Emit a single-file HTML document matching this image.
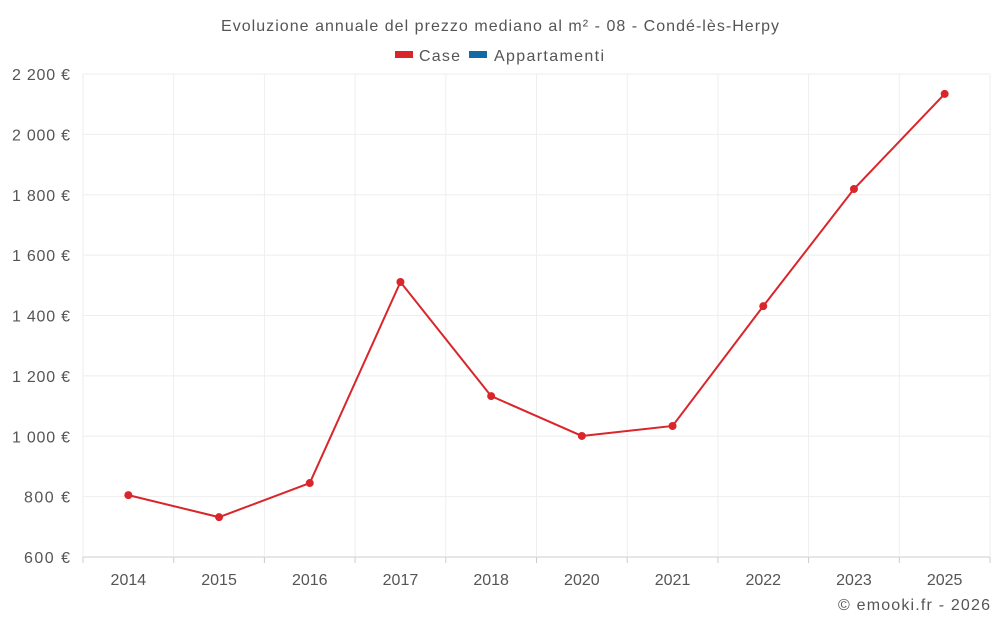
<!DOCTYPE html>
<html><head><meta charset="utf-8"><style>
body{margin:0;background:#fff;font-family:"Liberation Sans",sans-serif;}
svg text{font-family:"Liberation Sans",sans-serif;}
</style></head><body>
<svg id="chart" width="1000" height="625">
<text x="221" y="31" textLength="558" font-size="16" fill="#555">Evoluzione annuale del prezzo mediano al m² - 08 - Condé-lès-Herpy</text>
<g><rect x="395" y="51" width="18" height="7" fill="#d9262a"/><text x="419" y="61" textLength="41" font-size="16" fill="#555">Case</text></g>
<g><rect x="469" y="51" width="18" height="7" fill="#0f6aa6"/><text x="494" y="61" textLength="110" font-size="16" fill="#555">Appartamenti</text></g>
<g id="grid"></g><g id="axes"></g><g id="series"></g>
<text x="838" y="610" textLength="152" font-size="16" fill="#555">© emooki.fr - 2026</text>
</svg>
<script>
const categories=["2014","2015","2016","2017","2018","2020","2021","2022","2023","2025"];
const caseValues=[805,732,845,1511,1133,1001,1034,1431,1819,2134];
const yTicks=[600,800,1000,1200,1400,1600,1800,2000,2200];
const L=83,R=990,T=74,B=557,ymin=600,ymax=2200;
const ns="http://www.w3.org/2000/svg";
const bw=(R-L)/categories.length;
const xs=i=>L+bw*(i+0.5);
const ys=v=>B-(v-ymin)/(ymax-ymin)*(B-T);
function mk(t,a,p){const e=document.createElementNS(ns,t);for(const k in a)e.setAttribute(k,a[k]);p.appendChild(e);return e;}
const g=document.getElementById('grid'),ax=document.getElementById('axes'),s=document.getElementById('series');
yTicks.forEach(v=>{
 const l=mk('line',{x1:L,x2:R,y1:ys(v),y2:ys(v),stroke:v===ymin?'#ccc':'#eee'},g);
 
 
 const t=mk('text',{x:70,y:ys(v)+6,'text-anchor':'end','font-size':16,fill:'#555'},ax);
 t.textContent=String(v).replace(/\B(?=(\d{3})+(?!\d))/g,' ')+' €';
 t.setAttribute('textLength',v>=1000?58:46);
 
 
});
for(let i=0;i<=categories.length;i++){
 const l=mk('line',{x1:L+bw*i,x2:L+bw*i,y1:T,y2:B,stroke:'#eee'},g);
 
 
 const tk=mk('line',{x1:L+bw*i,x2:L+bw*i,y1:B,y2:B+6,stroke:'#ccc'},g);
 
 
}
categories.forEach((c,i)=>{
 const t=mk('text',{x:xs(i),y:585,'text-anchor':'middle','font-size':16,fill:'#555'},ax);
 t.textContent=c;
 
 
});
const p=mk('polyline',{points:caseValues.map((v,i)=>xs(i)+','+ys(v)).join(' '),fill:'none',stroke:'#d9262a','stroke-width':2},s);


caseValues.forEach((v,i)=>{
 const c=mk('circle',{cx:xs(i),cy:ys(v),r:4,fill:'#d9262a'},s);
 
 
});
</script>
</body></html>
